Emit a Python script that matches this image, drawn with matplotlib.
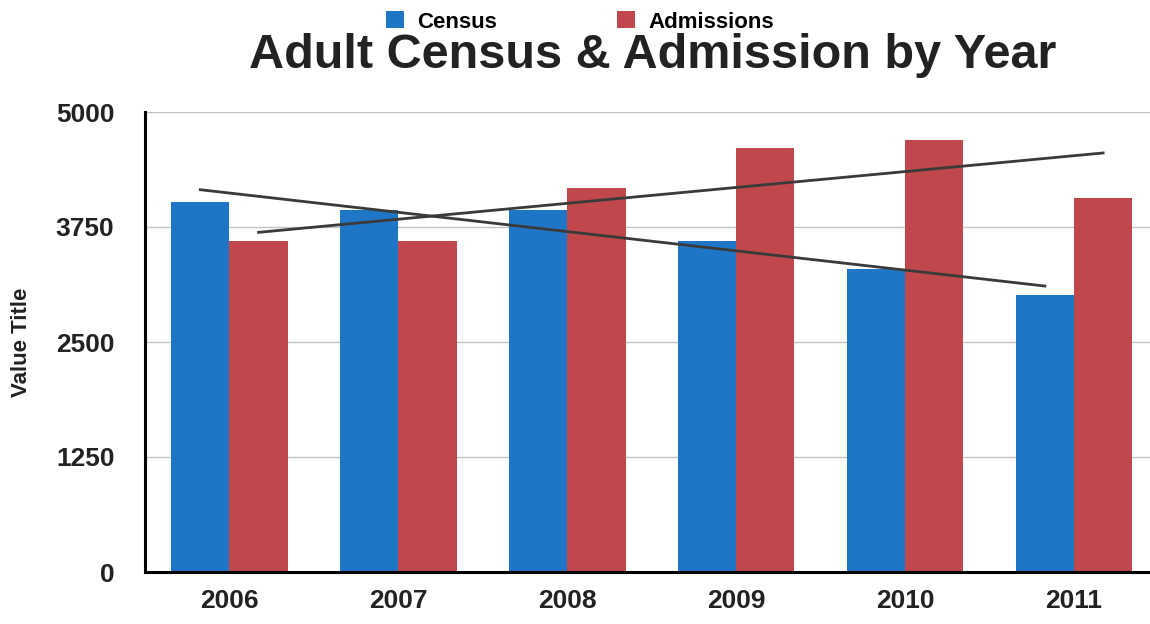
import matplotlib.pyplot as plt
import numpy as np

plt.rcParams['font.family'] = ['Liberation Sans', 'DejaVu Sans']

# Adult census & admissions per year
years = ['2006', '2007', '2008', '2009', '2010', '2011']
census = [4020, 3940, 3930, 3600, 3290, 3010]
admissions = [3600, 3600, 4170, 4610, 4700, 4060]
y_ticks = [0, 1250, 2500, 3750, 5000]

blue = '#1f76c6'
red = '#c0474b'

fig = plt.figure(figsize=(11.5, 6.24), dpi=100)
ax = fig.add_axes([145 / 1150, 52 / 624, 1005 / 1150, 460 / 624])

x = np.arange(len(years))
w = 0.345
ax.bar(x - w / 2, census, width=w, color=blue, label='Census', zorder=2)
ax.bar(x + w / 2, admissions, width=w, color=red, label='Admissions', zorder=2)

# linear trend lines through each series
for vals, off in [(census, -w / 2), (admissions, w / 2)]:
    k, b = np.polyfit(x, vals, 1)
    ax.plot(x + off, k * x + b, color='#3a3a3a', lw=2, zorder=3)

ax.set_xlim(-0.5, 5.45)
ax.set_ylim(0, 5000)
ax.set_yticks(y_ticks)
ax.set_yticklabels([str(t) for t in y_ticks])
ax.set_xticks(x)
ax.set_xticklabels(years)
ax.tick_params(axis='both', length=0, labelsize=19)
ax.tick_params(axis='y', pad=22)
ax.tick_params(axis='x', pad=12)
for lab in ax.get_xticklabels() + ax.get_yticklabels():
    lab.set_fontweight('bold')
    lab.set_color('#222222')

ax.grid(axis='y', color='#c4c4c4', lw=1, zorder=0)
for s in ['top', 'right']:
    ax.spines[s].set_visible(False)
ax.spines['left'].set_linewidth(2.2)
ax.spines['bottom'].set_linewidth(2.2)

fig.text(22 / 1150, 1 - 342 / 624, 'Value Title', rotation=90, ha='center',
         va='center', fontsize=16, fontweight='bold', color='#222222')
fig.text(653 / 1150, 1 - 55 / 624, 'Adult Census & Admission by Year',
         ha='center', va='center', fontsize=35, fontweight='bold', color='#222222')

fig.legend(loc='center', bbox_to_anchor=(580 / 1150, 1 - 22 / 624), ncol=2,
           frameon=False, handlelength=0.8, handleheight=0.8, handletextpad=0.6,
           columnspacing=5.4, prop={'weight': 'bold', 'size': 16})

fig.savefig('out.png', dpi=100)
